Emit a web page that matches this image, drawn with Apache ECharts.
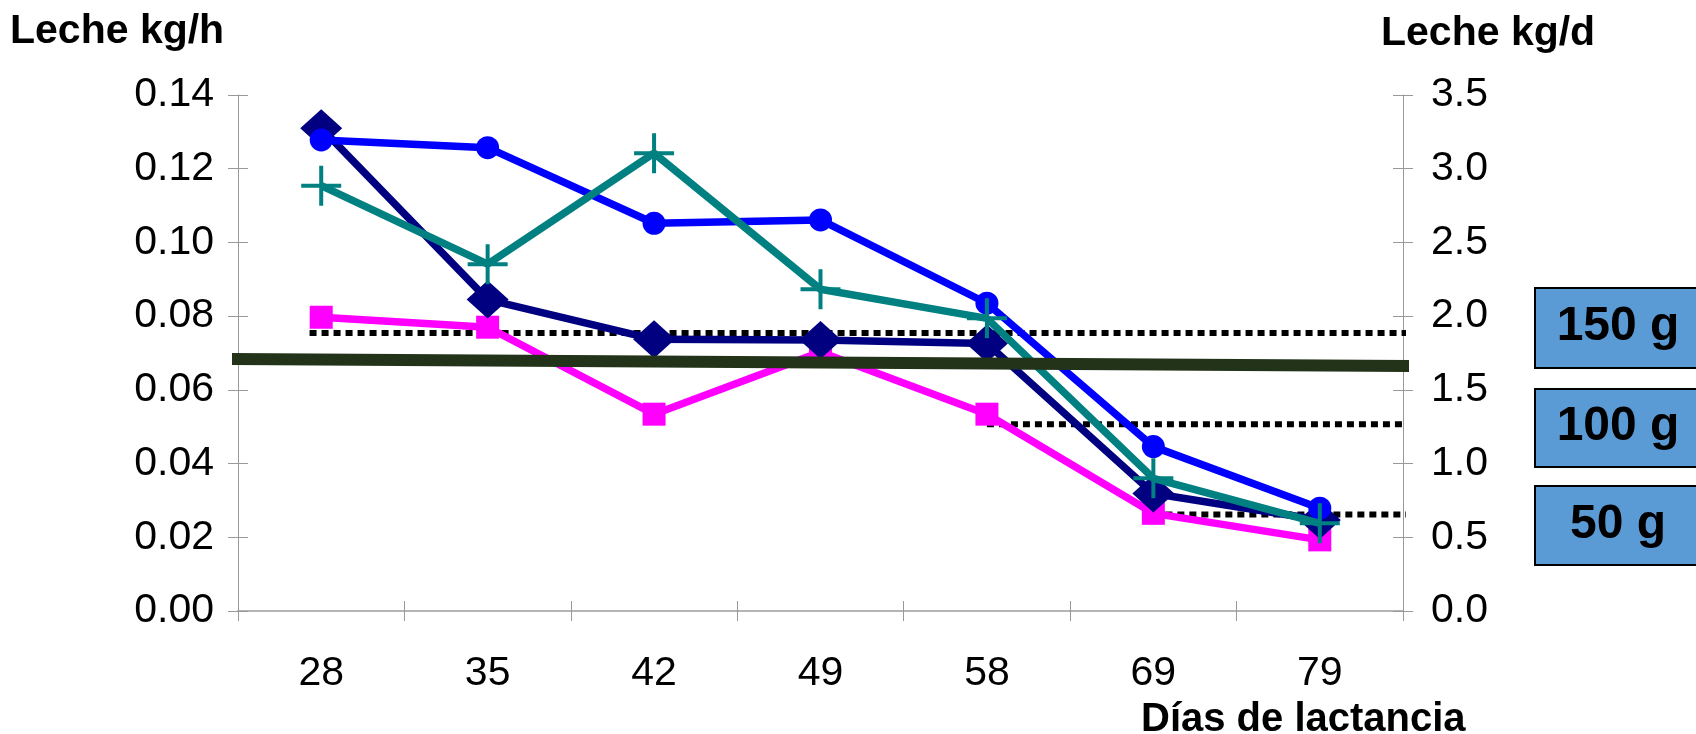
<!DOCTYPE html>
<html>
<head>
<meta charset="utf-8">
<script src="https://cdn.jsdelivr.net/npm/echarts@6/dist/echarts.min.js"></script>
<style>
html,body{margin:0;padding:0;background:#fff;}
#chart{width:1696px;height:734px;}
</style>
</head>
<body>
<div id="chart"></div>
<script>
// ---- data ----
const days = ['28', '35', '42', '49', '58', '69', '79'];
const navyDiamond = [0.1310, 0.0845, 0.0737, 0.0735, 0.0726, 0.0319, 0.0247];
const blueCircle  = [0.1278, 0.1257, 0.1052, 0.1061, 0.0835, 0.0446, 0.0279];
const tealPlus    = [0.1154, 0.0941, 0.1242, 0.0873, 0.0794, 0.0360, 0.0238];
const magentaSq   = [0.0797, 0.0770, 0.0534, 0.0703, 0.0534, 0.0265, 0.0193];

// reference (dotted) levels, in kg/h; start/end in category-index units
const refLabels = ['150 g', '100 g', '50 g'];
const refValues = [0.0754, 0.0507, 0.0262];
const refStart  = [-0.07, 4.0, 5.0];
const refEnd    = [7.19, 7.19, 7.19];

// thick trend line [index, kg/h]
const trendLine = [[-0.60, 0.0684], [7.19, 0.0663]];

// axis settings
const leftMax = 0.14, leftStep = 0.02;
const rightMax = 3.5, rightStep = 0.5;

const FONT = '"Liberation Sans", Arial, Helvetica, sans-serif';
const chart = echarts.init(document.getElementById('chart'), null, {renderer: 'canvas'});

const plusPath = 'path://M9,0h2v9h9v2h-9v9h-2v-9h-9v-2h9z';
const tickStyle = {color: '#999', width: 1};

function lineSeries(name, data, color, symbol, size, z) {
  return {
    name, type: 'line', data, xAxisIndex: 0, yAxisIndex: 0,
    symbol, symbolSize: size, showSymbol: true,
    lineStyle: {color, width: 7.5},
    itemStyle: {color, borderWidth: 0},
    z, animation: false, silent: true
  };
}

const refSeries = refValues.map((v, i) => ({
  name: refLabels[i], type: 'line', xAxisIndex: 2, yAxisIndex: 0,
  data: [[refStart[i], v], [refEnd[i], v]],
  symbol: 'none', clip: false,
  lineStyle: {color: '#000', width: 6, type: [7, 5]},
  z: 1, animation: false, silent: true
}));

// label boxes
const boxTops = [287, 388, 485];
const boxH = [80, 78, 79];
const boxes = [];
refLabels.forEach((t, i) => {
  boxes.push({
    type: 'rect', left: 1534, top: boxTops[i],
    shape: {width: 200, height: boxH[i]},
    style: {fill: '#5B9BD5', stroke: '#000', lineWidth: 2}, z: 10
  });
  boxes.push({
    type: 'text', x: 1618, y: boxTops[i] + boxH[i] / 2,
    style: {text: t, fill: '#000', font: 'bold 48px ' + FONT, textAlign: 'center', textVerticalAlign: 'middle'},
    z: 11
  });
});

const axisLineStyle = {show: true, onZero: false, lineStyle: {color: '#999', width: 1}};

const option = {
  backgroundColor: '#fff',
  animation: false,
  title: [
    {text: 'Leche kg/h', left: 10, top: 11, padding: 0,
     textStyle: {fontFamily: FONT, fontWeight: 'bold', fontSize: 41, color: '#000'}},
    {text: 'Leche kg/d', left: 1381, top: 13, padding: 0,
     textStyle: {fontFamily: FONT, fontWeight: 'bold', fontSize: 41, color: '#000'}},
    {text: 'Días de lactancia', left: 1141, top: 700, padding: 0,
     textStyle: {fontFamily: FONT, fontWeight: 'bold', fontSize: 40, color: '#000'}}
  ],
  grid: {left: 238, right: 293, top: 95, bottom: 123, outerBoundsMode: 'none', containLabel: false},
  xAxis: [
    {type: 'category', data: days, position: 'bottom', boundaryGap: true,
     axisLine: {show: true, onZero: false, lineStyle: {color: '#b4b4b4', width: 2}},
     axisTick: {show: true, length: 10, inside: false, lineStyle: tickStyle},
     axisLabel: {fontFamily: FONT, fontSize: 41, color: '#000', margin: 42},
     splitLine: {show: false}},
    {type: 'category', data: days, position: 'bottom', boundaryGap: true,
     axisLine: {show: false, onZero: false},
     axisTick: {show: true, length: 10, inside: true, lineStyle: tickStyle},
     axisLabel: {show: false}, splitLine: {show: false}},
    {type: 'value', min: -0.5, max: 6.5, show: false, axisLine: {onZero: false}}
  ],
  yAxis: [
    {type: 'value', position: 'left', min: 0, max: leftMax, interval: leftStep,
     axisLine: axisLineStyle,
     axisTick: {show: true, length: 10, lineStyle: tickStyle},
     axisLabel: {fontFamily: FONT, fontSize: 41, color: '#000', margin: 24,
                 formatter: v => v.toFixed(2)},
     splitLine: {show: false}},
    {type: 'value', position: 'right', min: 0, max: rightMax, interval: rightStep,
     axisLine: axisLineStyle,
     axisTick: {show: true, length: 10, lineStyle: tickStyle},
     axisLabel: {fontFamily: FONT, fontSize: 41, color: '#000', margin: 28,
                 formatter: v => v.toFixed(1)},
     splitLine: {show: false}},
    {type: 'value', position: 'left', min: 0, max: leftMax, interval: leftStep,
     axisLine: {show: false, onZero: false}, axisTick: {show: true, inside: true, length: 10, lineStyle: tickStyle},
     axisLabel: {show: false}, splitLine: {show: false}},
    {type: 'value', position: 'right', min: 0, max: rightMax, interval: rightStep,
     axisLine: {show: false, onZero: false}, axisTick: {show: true, inside: true, length: 10, lineStyle: tickStyle},
     axisLabel: {show: false}, splitLine: {show: false}}
  ],
  series: [
    ...refSeries,
    lineSeries('magenta', magentaSq, '#FF00FF', 'rect', 23, 3),
    lineSeries('navy', navyDiamond, '#000080', 'diamond', [42, 38], 4),
    lineSeries('blue', blueCircle, '#0000FF', 'circle', 23, 5),
    lineSeries('teal', tealPlus, '#008080', plusPath, 40, 6),
    {name: 'trend', type: 'line', xAxisIndex: 2, yAxisIndex: 0, data: trendLine,
     symbol: 'none', clip: false, lineStyle: {color: '#22331A', width: 12},
     z: 8, animation: false, silent: true}
  ],
  graphic: boxes
};
chart.setOption(option);
</script>
</body>
</html>
